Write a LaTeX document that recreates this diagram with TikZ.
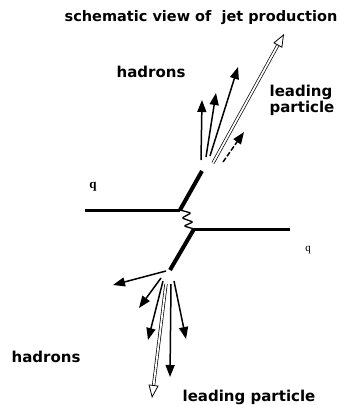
\documentclass[tikz,border=0pt]{standalone}
\usepackage{fontspec}
\setmainfont{DejaVu Sans}
\newfontfamily\qfont{Liberation Serif}
\usetikzlibrary{arrows.meta}
\tikzset{
  lbl/.style={font=\bfseries\fontsize{15}{16}\selectfont, inner sep=0pt, align=left},
  ttl/.style={font=\bfseries\fontsize{14.5}{15}\selectfont, inner sep=0pt},
  qlbl/.style={font=\qfont\bfseries\fontsize{13}{14}\selectfont, inner sep=0pt},
  hadron/.style={line width=1.5pt, -{Triangle[length=12pt,width=9pt]}},
  lead/.style={double, double distance=1.8pt, line width=0.7pt, -{Triangle[open,length=13pt,width=10pt,line width=0.8pt]}},
  quark/.style={line width=4pt},
  beam/.style={line width=3pt},
  gluon/.style={line width=1.3pt, rounded corners=1.2pt}
}
\begin{document}
\begin{tikzpicture}[x=1pt,y=-1pt]
\useasboundingbox (0,0) rectangle (340,405);
% vertices and points
\coordinate (inL) at (85,210);
\coordinate (v1) at (180,210);
\coordinate (v2) at (194,229);
\coordinate (outR) at (290,229);
\coordinate (jt) at (202,171);
\coordinate (jb) at (170,270);
% upper jet origins
\coordinate (u1) at (201,160);
\coordinate (u2) at (206,157);
\coordinate (u3) at (210,156);
\coordinate (ul) at (213,163);
\coordinate (u4) at (223,162);
\coordinate (t1) at (202,100);
\coordinate (t2) at (216,93);
\coordinate (t3) at (238,67);
\coordinate (tl) at (284,34);
\coordinate (t4) at (244,132);
% lower jet
\coordinate (l1) at (166,271);
\coordinate (l2) at (161,278);
\coordinate (l3) at (163,281);
\coordinate (ll) at (166,284);
\coordinate (l5) at (171,284);
\coordinate (l6) at (174,281);
\coordinate (b1) at (113,285);
\coordinate (b2) at (139,308);
\coordinate (b3) at (148,340);
\coordinate (bl) at (152,398);
\coordinate (b5) at (170,377);
\coordinate (b6) at (186,339);

% lines
\draw[beam] (inL) -- (v1);
\draw[quark] (v1) -- (jt);
\draw[beam] (v2) -- (outR);
\draw[quark] (v2) -- (jb);
\draw[gluon] (v1) -- (191,213) -- (182,218) -- (193,222) -- (184,226) -- (v2);

% upper jet
\draw[hadron] (u1) -- (t1);
\draw[hadron] (u2) -- (t2);
\draw[hadron] (u3) -- (t3);
\draw[hadron, dash pattern=on 5pt off 2pt] (u4) -- (t4);
\draw[lead] (ul) -- (tl);

% lower jet
\draw[hadron] (l1) -- (b1);
\draw[hadron] (l2) -- (b2);
\draw[hadron] (l3) -- (b3);
\draw[hadron] (l5) -- (b5);
\draw[hadron] (l6) -- (b6);
\draw[lead] (ll) -- (bl);

% labels
\node[ttl] (title) at (201,18) {schematic view of\ \ jet production};
\node[lbl] (hadU) at (151,72) {hadrons};
\node[lbl] (leadU) at (302,100) {leading\\particle};
\node[lbl] (hadL) at (46,357) {hadrons};
\node[lbl] (leadL) at (249,397) {leading particle};
\node[qlbl] (qL) at (93,187) {q};
\node[qlbl, font=\qfont\fontsize{11}{12}\selectfont] (qR) at (308,250) {q};
\end{tikzpicture}
\end{document}
